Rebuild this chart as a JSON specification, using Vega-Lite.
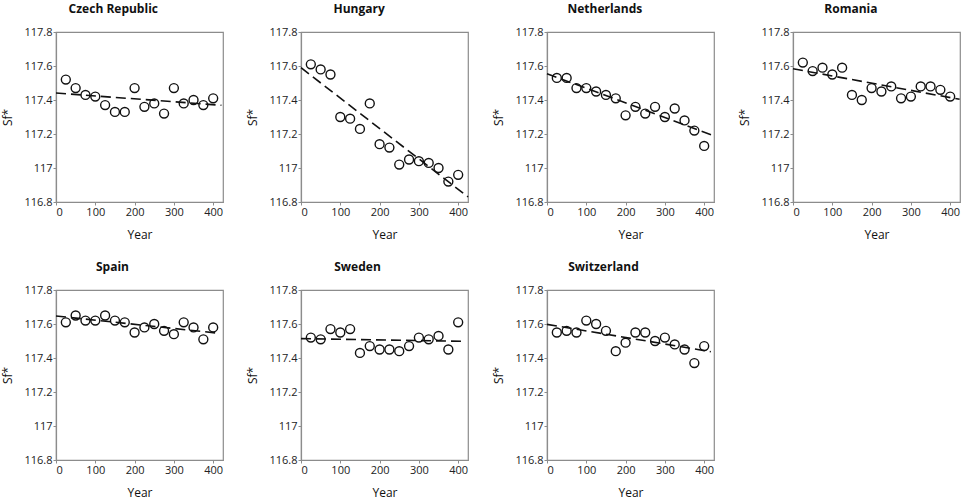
{
  "$schema": "https://vega.github.io/schema/vega-lite/v6.json",
  "description": "Sf* against Year by country, open circles with a dashed linear fit.",
  "padding": {"left": 1, "top": 2, "right": 2, "bottom": 2},
  "background": "white",
  "datasets": {
    "points": [
      {"country": "Czech Republic", "year": 25, "sf": 117.52},
      {"country": "Czech Republic", "year": 50, "sf": 117.47},
      {"country": "Czech Republic", "year": 75, "sf": 117.43},
      {"country": "Czech Republic", "year": 100, "sf": 117.42},
      {"country": "Czech Republic", "year": 125, "sf": 117.37},
      {"country": "Czech Republic", "year": 150, "sf": 117.33},
      {"country": "Czech Republic", "year": 175, "sf": 117.33},
      {"country": "Czech Republic", "year": 200, "sf": 117.47},
      {"country": "Czech Republic", "year": 225, "sf": 117.36},
      {"country": "Czech Republic", "year": 250, "sf": 117.38},
      {"country": "Czech Republic", "year": 275, "sf": 117.32},
      {"country": "Czech Republic", "year": 300, "sf": 117.47},
      {"country": "Czech Republic", "year": 325, "sf": 117.38},
      {"country": "Czech Republic", "year": 350, "sf": 117.40},
      {"country": "Czech Republic", "year": 375, "sf": 117.37},
      {"country": "Czech Republic", "year": 400, "sf": 117.41},
      {"country": "Hungary", "year": 25, "sf": 117.61},
      {"country": "Hungary", "year": 50, "sf": 117.58},
      {"country": "Hungary", "year": 75, "sf": 117.55},
      {"country": "Hungary", "year": 100, "sf": 117.30},
      {"country": "Hungary", "year": 125, "sf": 117.29},
      {"country": "Hungary", "year": 150, "sf": 117.23},
      {"country": "Hungary", "year": 175, "sf": 117.38},
      {"country": "Hungary", "year": 200, "sf": 117.14},
      {"country": "Hungary", "year": 225, "sf": 117.12},
      {"country": "Hungary", "year": 250, "sf": 117.02},
      {"country": "Hungary", "year": 275, "sf": 117.05},
      {"country": "Hungary", "year": 300, "sf": 117.04},
      {"country": "Hungary", "year": 325, "sf": 117.03},
      {"country": "Hungary", "year": 350, "sf": 117.00},
      {"country": "Hungary", "year": 375, "sf": 116.92},
      {"country": "Hungary", "year": 400, "sf": 116.96},
      {"country": "Netherlands", "year": 25, "sf": 117.53},
      {"country": "Netherlands", "year": 50, "sf": 117.53},
      {"country": "Netherlands", "year": 75, "sf": 117.47},
      {"country": "Netherlands", "year": 100, "sf": 117.47},
      {"country": "Netherlands", "year": 125, "sf": 117.45},
      {"country": "Netherlands", "year": 150, "sf": 117.43},
      {"country": "Netherlands", "year": 175, "sf": 117.41},
      {"country": "Netherlands", "year": 200, "sf": 117.31},
      {"country": "Netherlands", "year": 225, "sf": 117.36},
      {"country": "Netherlands", "year": 250, "sf": 117.32},
      {"country": "Netherlands", "year": 275, "sf": 117.36},
      {"country": "Netherlands", "year": 300, "sf": 117.30},
      {"country": "Netherlands", "year": 325, "sf": 117.35},
      {"country": "Netherlands", "year": 350, "sf": 117.28},
      {"country": "Netherlands", "year": 375, "sf": 117.22},
      {"country": "Netherlands", "year": 400, "sf": 117.13},
      {"country": "Romania", "year": 25, "sf": 117.62},
      {"country": "Romania", "year": 50, "sf": 117.57},
      {"country": "Romania", "year": 75, "sf": 117.59},
      {"country": "Romania", "year": 100, "sf": 117.55},
      {"country": "Romania", "year": 125, "sf": 117.59},
      {"country": "Romania", "year": 150, "sf": 117.43},
      {"country": "Romania", "year": 175, "sf": 117.40},
      {"country": "Romania", "year": 200, "sf": 117.47},
      {"country": "Romania", "year": 225, "sf": 117.45},
      {"country": "Romania", "year": 250, "sf": 117.48},
      {"country": "Romania", "year": 275, "sf": 117.41},
      {"country": "Romania", "year": 300, "sf": 117.42},
      {"country": "Romania", "year": 325, "sf": 117.48},
      {"country": "Romania", "year": 350, "sf": 117.48},
      {"country": "Romania", "year": 375, "sf": 117.46},
      {"country": "Romania", "year": 400, "sf": 117.42},
      {"country": "Spain", "year": 25, "sf": 117.61},
      {"country": "Spain", "year": 50, "sf": 117.65},
      {"country": "Spain", "year": 75, "sf": 117.62},
      {"country": "Spain", "year": 100, "sf": 117.62},
      {"country": "Spain", "year": 125, "sf": 117.65},
      {"country": "Spain", "year": 150, "sf": 117.62},
      {"country": "Spain", "year": 175, "sf": 117.61},
      {"country": "Spain", "year": 200, "sf": 117.55},
      {"country": "Spain", "year": 225, "sf": 117.58},
      {"country": "Spain", "year": 250, "sf": 117.60},
      {"country": "Spain", "year": 275, "sf": 117.56},
      {"country": "Spain", "year": 300, "sf": 117.54},
      {"country": "Spain", "year": 325, "sf": 117.61},
      {"country": "Spain", "year": 350, "sf": 117.58},
      {"country": "Spain", "year": 375, "sf": 117.51},
      {"country": "Spain", "year": 400, "sf": 117.58},
      {"country": "Sweden", "year": 25, "sf": 117.52},
      {"country": "Sweden", "year": 50, "sf": 117.51},
      {"country": "Sweden", "year": 75, "sf": 117.57},
      {"country": "Sweden", "year": 100, "sf": 117.55},
      {"country": "Sweden", "year": 125, "sf": 117.57},
      {"country": "Sweden", "year": 150, "sf": 117.43},
      {"country": "Sweden", "year": 175, "sf": 117.47},
      {"country": "Sweden", "year": 200, "sf": 117.45},
      {"country": "Sweden", "year": 225, "sf": 117.45},
      {"country": "Sweden", "year": 250, "sf": 117.44},
      {"country": "Sweden", "year": 275, "sf": 117.47},
      {"country": "Sweden", "year": 300, "sf": 117.52},
      {"country": "Sweden", "year": 325, "sf": 117.51},
      {"country": "Sweden", "year": 350, "sf": 117.53},
      {"country": "Sweden", "year": 375, "sf": 117.45},
      {"country": "Sweden", "year": 400, "sf": 117.61},
      {"country": "Switzerland", "year": 25, "sf": 117.55},
      {"country": "Switzerland", "year": 50, "sf": 117.56},
      {"country": "Switzerland", "year": 75, "sf": 117.55},
      {"country": "Switzerland", "year": 100, "sf": 117.62},
      {"country": "Switzerland", "year": 125, "sf": 117.60},
      {"country": "Switzerland", "year": 150, "sf": 117.56},
      {"country": "Switzerland", "year": 175, "sf": 117.44},
      {"country": "Switzerland", "year": 200, "sf": 117.49},
      {"country": "Switzerland", "year": 225, "sf": 117.55},
      {"country": "Switzerland", "year": 250, "sf": 117.55},
      {"country": "Switzerland", "year": 275, "sf": 117.50},
      {"country": "Switzerland", "year": 300, "sf": 117.52},
      {"country": "Switzerland", "year": 325, "sf": 117.48},
      {"country": "Switzerland", "year": 350, "sf": 117.45},
      {"country": "Switzerland", "year": 375, "sf": 117.37},
      {"country": "Switzerland", "year": 400, "sf": 117.47}
    ],
    "fits": [
      {"country": "Czech Republic", "year": 0, "sf": 117.441},
      {"country": "Czech Republic", "year": 421, "sf": 117.369},
      {"country": "Hungary", "year": 0, "sf": 117.59},
      {"country": "Hungary", "year": 425, "sf": 116.83},
      {"country": "Netherlands", "year": 0, "sf": 117.555},
      {"country": "Netherlands", "year": 424, "sf": 117.19},
      {"country": "Romania", "year": 0, "sf": 117.584},
      {"country": "Romania", "year": 424, "sf": 117.404},
      {"country": "Spain", "year": 0, "sf": 117.647},
      {"country": "Spain", "year": 417, "sf": 117.545},
      {"country": "Sweden", "year": 0, "sf": 117.514},
      {"country": "Sweden", "year": 417, "sf": 117.498},
      {"country": "Switzerland", "year": 0, "sf": 117.598},
      {"country": "Switzerland", "year": 417, "sf": 117.437}
    ]
  },
  "columns": 4,
  "spacing": {"column": 20, "row": 19},
  "concat": [
    {
      "title": "Czech Republic",
      "width": 167, "height": 170,
      "encoding": {
        "x": {"field": "year", "type": "quantitative", "title": "Year", "scale": {"domain": [0, 425], "nice": false}},
        "y": {"field": "sf", "type": "quantitative", "title": "Sf*", "scale": {"domain": [116.8, 117.8], "nice": false}}
      },
      "layer": [
        {"data": {"name": "points"}, "transform": [{"filter": "datum.country === 'Czech Republic'"}], "mark": {"type": "point"}},
        {"data": {"name": "fits"}, "transform": [{"filter": "datum.country === 'Czech Republic'"}], "mark": {"type": "line"}}
      ]
    },
    {
      "title": "Hungary",
      "width": 167, "height": 170,
      "encoding": {
        "x": {"field": "year", "type": "quantitative", "title": "Year", "scale": {"domain": [0, 425], "nice": false}},
        "y": {"field": "sf", "type": "quantitative", "title": "Sf*", "scale": {"domain": [116.8, 117.8], "nice": false}}
      },
      "layer": [
        {"data": {"name": "points"}, "transform": [{"filter": "datum.country === 'Hungary'"}], "mark": {"type": "point"}},
        {"data": {"name": "fits"}, "transform": [{"filter": "datum.country === 'Hungary'"}], "mark": {"type": "line"}}
      ]
    },
    {
      "title": "Netherlands",
      "width": 167, "height": 170,
      "encoding": {
        "x": {"field": "year", "type": "quantitative", "title": "Year", "scale": {"domain": [0, 425], "nice": false}},
        "y": {"field": "sf", "type": "quantitative", "title": "Sf*", "scale": {"domain": [116.8, 117.8], "nice": false}}
      },
      "layer": [
        {"data": {"name": "points"}, "transform": [{"filter": "datum.country === 'Netherlands'"}], "mark": {"type": "point"}},
        {"data": {"name": "fits"}, "transform": [{"filter": "datum.country === 'Netherlands'"}], "mark": {"type": "line"}}
      ]
    },
    {
      "title": "Romania",
      "width": 167, "height": 170,
      "encoding": {
        "x": {"field": "year", "type": "quantitative", "title": "Year", "scale": {"domain": [0, 425], "nice": false}},
        "y": {"field": "sf", "type": "quantitative", "title": "Sf*", "scale": {"domain": [116.8, 117.8], "nice": false}}
      },
      "layer": [
        {"data": {"name": "points"}, "transform": [{"filter": "datum.country === 'Romania'"}], "mark": {"type": "point"}},
        {"data": {"name": "fits"}, "transform": [{"filter": "datum.country === 'Romania'"}], "mark": {"type": "line"}}
      ]
    },
    {
      "title": "Spain",
      "width": 167, "height": 170,
      "encoding": {
        "x": {"field": "year", "type": "quantitative", "title": "Year", "scale": {"domain": [0, 425], "nice": false}},
        "y": {"field": "sf", "type": "quantitative", "title": "Sf*", "scale": {"domain": [116.8, 117.8], "nice": false}}
      },
      "layer": [
        {"data": {"name": "points"}, "transform": [{"filter": "datum.country === 'Spain'"}], "mark": {"type": "point"}},
        {"data": {"name": "fits"}, "transform": [{"filter": "datum.country === 'Spain'"}], "mark": {"type": "line"}}
      ]
    },
    {
      "title": "Sweden",
      "width": 167, "height": 170,
      "encoding": {
        "x": {"field": "year", "type": "quantitative", "title": "Year", "scale": {"domain": [0, 425], "nice": false}},
        "y": {"field": "sf", "type": "quantitative", "title": "Sf*", "scale": {"domain": [116.8, 117.8], "nice": false}}
      },
      "layer": [
        {"data": {"name": "points"}, "transform": [{"filter": "datum.country === 'Sweden'"}], "mark": {"type": "point"}},
        {"data": {"name": "fits"}, "transform": [{"filter": "datum.country === 'Sweden'"}], "mark": {"type": "line"}}
      ]
    },
    {
      "title": "Switzerland",
      "width": 167, "height": 170,
      "encoding": {
        "x": {"field": "year", "type": "quantitative", "title": "Year", "scale": {"domain": [0, 425], "nice": false}},
        "y": {"field": "sf", "type": "quantitative", "title": "Sf*", "scale": {"domain": [116.8, 117.8], "nice": false}}
      },
      "layer": [
        {"data": {"name": "points"}, "transform": [{"filter": "datum.country === 'Switzerland'"}], "mark": {"type": "point"}},
        {"data": {"name": "fits"}, "transform": [{"filter": "datum.country === 'Switzerland'"}], "mark": {"type": "line"}}
      ]
    }
  ],
  "config": {
    "font": "Open Sans",
    "view": {"stroke": "#8c8c8c", "strokeWidth": 1.2},
    "title": {"frame": "bounds", "anchor": "middle", "font": "Open Sans", "fontSize": 12, "fontWeight": "bold", "color": "#111", "offset": 10},
    "point": {"shape": "circle", "filled": false, "color": "#111", "size": 80, "strokeWidth": 1.4, "opacity": 1},
    "line": {"color": "#111", "strokeWidth": 1.6, "strokeDash": [10, 5], "clip": true},
    "axis": {
      "grid": false,
      "domainColor": "#8c8c8c",
      "domainWidth": 1.2,
      "tickColor": "#8c8c8c",
      "tickSize": 3,
      "labelPadding": 1,
      "labelFont": "Open Sans",
      "labelFontSize": 11,
      "labelColor": "#222",
      "titleFont": "Open Sans",
      "titleFontSize": 12,
      "titleFontWeight": "normal",
      "titleColor": "#111"
    },
    "axisX": {"values": [0, 100, 200, 300, 400], "titlePadding": 12},
    "axisY": {"values": [116.8, 117, 117.2, 117.4, 117.6, 117.8], "format": ".1~f", "titlePadding": 9}
  }
}
